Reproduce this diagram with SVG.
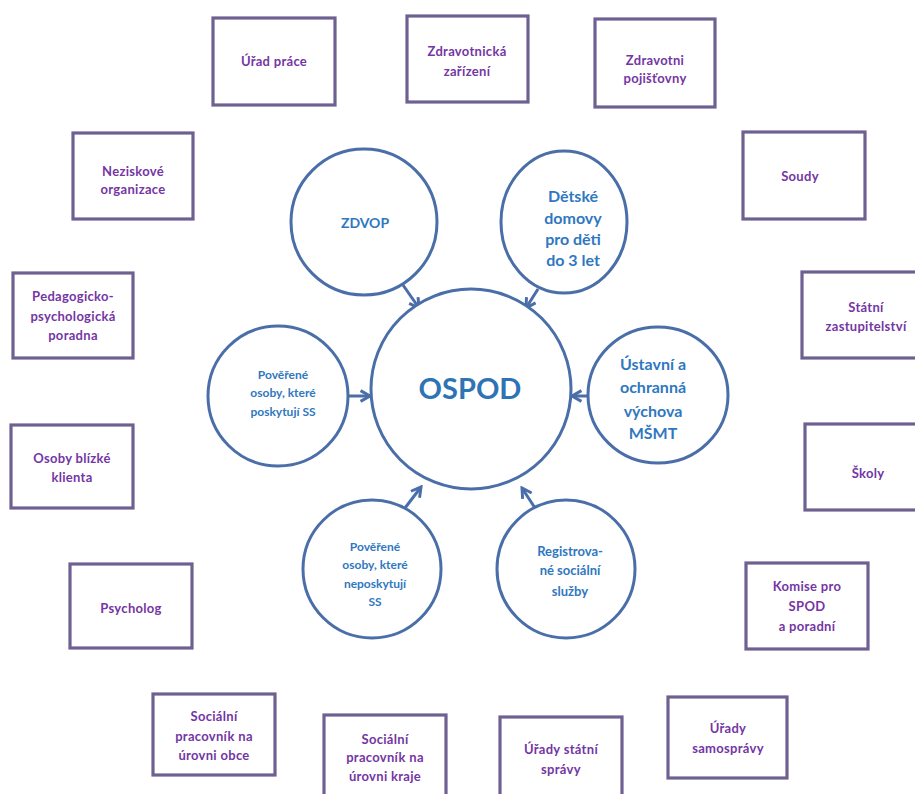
<svg xmlns="http://www.w3.org/2000/svg" width="915" height="794" viewBox="0 0 915 794">
<defs>
<style>
.box rect{fill:#fff;stroke:#6e6192;stroke-width:3.2}
.box text{font-family:Lato,"Liberation Sans",sans-serif;font-weight:bold;font-size:13px;letter-spacing:0.3px;fill:#7436a4;text-anchor:middle}
.cir circle,.cir ellipse{fill:#fff;stroke:#4a6ea8;stroke-width:3}
.cir text{font-family:Lato,"Liberation Sans",sans-serif;font-weight:bold;fill:#2f78c0;text-anchor:middle}
.conn line{stroke:#4a6ea8;stroke-width:3;marker-end:url(#ah)}
</style>
<marker id="ah" viewBox="0 0 10 10" refX="8" refY="5" markerWidth="4.5" markerHeight="4.5" orient="auto" markerUnits="strokeWidth">
<polyline points="1,1 8,5 1,9" fill="none" stroke="#4a6ea8" stroke-width="2.2"/>
</marker>
</defs>
<rect width="915" height="794" fill="#fff"/>

<g id="connectors" class="conn">
<line x1="403" y1="285" x2="419" y2="308"/>
<line x1="538" y1="289" x2="526" y2="308"/>
<line x1="348" y1="396" x2="370" y2="396"/>
<line x1="589" y1="396" x2="572" y2="396"/>
<line x1="405" y1="508" x2="421" y2="487"/>
<line x1="535" y1="508" x2="522" y2="488"/>
</g>

<g id="ospod" class="cir">
<circle cx="471" cy="389" r="100"/>
<text x="470" y="399" style="font-size:29px;fill:#2e74b5">OSPOD</text>
</g>
<g id="zdvop" class="cir">
<circle cx="364" cy="222" r="73"/>
<text x="365" y="228" style="font-size:14px">ZDVOP</text>
</g>
<g id="detske" class="cir">
<ellipse cx="564" cy="222" rx="63" ry="71"/>
<text style="font-size:16px"><tspan x="573" y="202">Dětské</tspan><tspan x="573" y="224">domovy</tspan><tspan x="573" y="245">pro děti</tspan><tspan x="573" y="266">do 3 let</tspan></text>
</g>
<g id="poverene1" class="cir">
<circle cx="278" cy="396" r="70"/>
<text style="font-size:12px"><tspan x="283" y="379">Pověřené</tspan><tspan x="283" y="397">osoby, které</tspan><tspan x="283" y="416">poskytují SS</tspan></text>
</g>
<g id="ustavni" class="cir">
<ellipse cx="658" cy="395" rx="70" ry="68"/>
<text style="font-size:16px"><tspan x="653" y="370">Ústavní a</tspan><tspan x="653" y="393">ochranná</tspan><tspan x="653" y="417">výchova</tspan><tspan x="653" y="439">MŠMT</tspan></text>
</g>
<g id="poverene2" class="cir">
<circle cx="372" cy="569" r="69"/>
<text style="font-size:12px"><tspan x="375" y="551">Pověřené</tspan><tspan x="375" y="569">osoby, které</tspan><tspan x="375" y="588">neposkytují</tspan><tspan x="375" y="606">SS</tspan></text>
</g>
<g id="registrovane" class="cir">
<circle cx="566" cy="569" r="69"/>
<text style="font-size:13px"><tspan x="570" y="556">Registrova-</tspan><tspan x="570" y="575">né sociální</tspan><tspan x="570" y="596">služby</tspan></text>
</g>

<g id="urad-prace" class="box"><rect x="213" y="18" width="122" height="87"/><text x="274" y="66">Úřad práce</text></g>
<g id="zdrav-zarizeni" class="box"><rect x="407" y="16" width="121" height="86"/><text><tspan x="467" y="56">Zdravotnická</tspan><tspan x="467" y="76">zařízení</tspan></text></g>
<g id="zdrav-pojistovny" class="box"><rect x="595" y="19" width="120" height="88"/><text><tspan x="655" y="65">Zdravotni</tspan><tspan x="655" y="83">pojišťovny</tspan></text></g>
<g id="neziskove" class="box"><rect x="73" y="133" width="120" height="86"/><text><tspan x="133" y="176">Neziskové</tspan><tspan x="133" y="194">organizace</tspan></text></g>
<g id="ppp" class="box"><rect x="13" y="273" width="120" height="85"/><text><tspan x="73" y="301">Pedagogicko-</tspan><tspan x="73" y="321">psychologická</tspan><tspan x="73" y="340">poradna</tspan></text></g>
<g id="soudy" class="box"><rect x="743" y="132" width="122" height="87"/><text x="800" y="181">Soudy</text></g>
<g id="statni-zast" class="box"><rect x="802" y="272" width="130" height="86"/><text><tspan x="866" y="312">Státní</tspan><tspan x="866" y="331">zastupitelství</tspan></text></g>
<g id="skoly" class="box"><rect x="805" y="424" width="130" height="86"/><text x="868" y="478">Školy</text></g>
<g id="osoby-blizke" class="box"><rect x="11" y="425" width="122" height="83"/><text><tspan x="72" y="463">Osoby blízké</tspan><tspan x="72" y="482">klienta</tspan></text></g>
<g id="psycholog" class="box"><rect x="70" y="564" width="122" height="84"/><text x="131" y="613">Psycholog</text></g>
<g id="soc-obce" class="box"><rect x="153" y="694" width="122" height="81"/><text><tspan x="214" y="721">Sociální</tspan><tspan x="214" y="741">pracovník na</tspan><tspan x="214" y="760">úrovni obce</tspan></text></g>
<g id="soc-kraje" class="box"><rect x="324" y="715" width="122" height="90"/><text><tspan x="385" y="744">Sociální</tspan><tspan x="385" y="762">pracovník na</tspan><tspan x="385" y="781">úrovni kraje</tspan></text></g>
<g id="urady-statni" class="box"><rect x="500" y="717" width="122" height="90"/><text><tspan x="561" y="754">Úřady státní</tspan><tspan x="561" y="774">správy</tspan></text></g>
<g id="urady-samospravy" class="box"><rect x="668" y="697" width="119" height="81"/><text><tspan x="728" y="733">Úřady</tspan><tspan x="728" y="753">samosprávy</tspan></text></g>
<g id="komise" class="box"><rect x="746" y="563" width="122" height="86"/><text><tspan x="807" y="591">Komise pro</tspan><tspan x="807" y="611">SPOD</tspan><tspan x="807" y="631">a poradní</tspan></text></g>
</svg>
